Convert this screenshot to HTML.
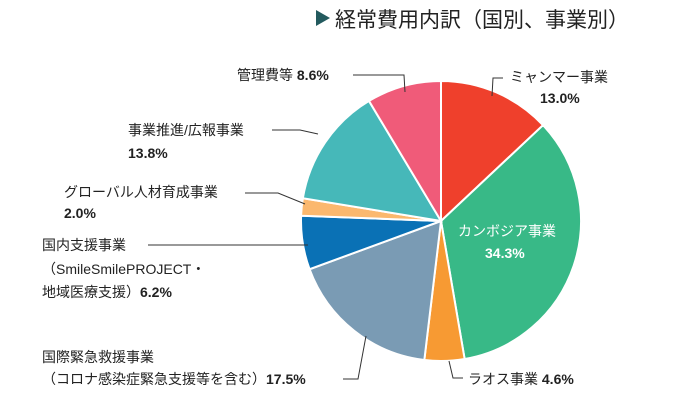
<!DOCTYPE html>
<html><head><meta charset="utf-8"><style>
body{margin:0;background:#fff;}
svg{display:block;font-family:"Liberation Sans","Noto Sans CJK JP",sans-serif;}
</style></head><body>
<svg width="696" height="410" viewBox="0 0 696 410">
<polygon points="316,10 316,26 330,18" fill="#235a5e"/>
<text x="335" y="27" font-size="21" fill="#222">経常費用内訳（国別、事業別）</text>
<g id="slices"></g>
<g stroke="#333" stroke-width="1" fill="none">
<polyline points="503,78 493,78 492,96"/>
<polyline points="353,75 404,75 405,92"/>
<polyline points="272,130 300,130 318,134"/>
<polyline points="245,193 278,193 305,204"/>
<polyline points="148,245 308,245"/>
<polyline points="343,379 358,379 366,336"/>
<polyline points="449,361 453,378 463,378"/>
</g>
<g font-size="14" fill="#222">
<text x="510" y="82">ミャンマー事業</text>
<text x="540" y="103" font-weight="bold">13.0%</text>
<text x="237" y="80">管理費等 <tspan font-weight="bold">8.6%</tspan></text>
<text x="128" y="135">事業推進/広報事業</text>
<text x="128" y="158" font-weight="bold">13.8%</text>
<text x="64" y="197">グローバル人材育成事業</text>
<text x="64" y="218" font-weight="bold">2.0%</text>
<text x="42" y="250">国内支援事業</text>
<text x="42" y="274">（SmileSmilePROJECT・</text>
<text x="42" y="297">地域医療支援）<tspan font-weight="bold">6.2%</tspan></text>
<text x="42" y="362">国際緊急救援事業</text>
<text x="42" y="384">（コロナ感染症緊急支援等を含む）<tspan font-weight="bold">17.5%</tspan></text>
<text x="468" y="384">ラオス事業 <tspan font-weight="bold">4.6%</tspan></text>
<text x="458" y="236" fill="#fff">カンボジア事業</text>
<text x="485" y="258" fill="#fff" font-weight="bold">34.3%</text>
</g>
</svg>
<script>
const categories=["myanmar","cambodia","laos","emergency","domestic","global","promotion","management"];
const values=[13.0,34.3,4.6,17.5,6.2,2.0,13.8,8.6];
const colors=["#ef402c","#38b987","#f79a33","#7a9bb4","#0a71b5","#fbb86e","#46b8b9","#f05b79"];
const cx=441,cy=221,r=140;
const g=document.getElementById('slices');
const total=values.reduce((a,b)=>a+b,0);
let acc=0;
function pt(f){const a=f*2*Math.PI-Math.PI/2;return [cx+r*Math.cos(a),cy+r*Math.sin(a)];}
values.forEach((v,i)=>{
  const f0=acc/total; acc+=v; const f1=acc/total;
  const p0=pt(f0),p1=pt(f1);
  const large=(f1-f0)>0.5?1:0;
  const p=document.createElementNS('http://www.w3.org/2000/svg','path');
  p.setAttribute('d',`M${cx},${cy} L${p0[0]},${p0[1]} A${r},${r} 0 ${large} 1 ${p1[0]},${p1[1]} Z`);
  p.setAttribute('fill',colors[i]);
  p.setAttribute('stroke','#fff');
  p.setAttribute('stroke-width','2');
  
  
  g.appendChild(p);
});
</script>
</body></html>
